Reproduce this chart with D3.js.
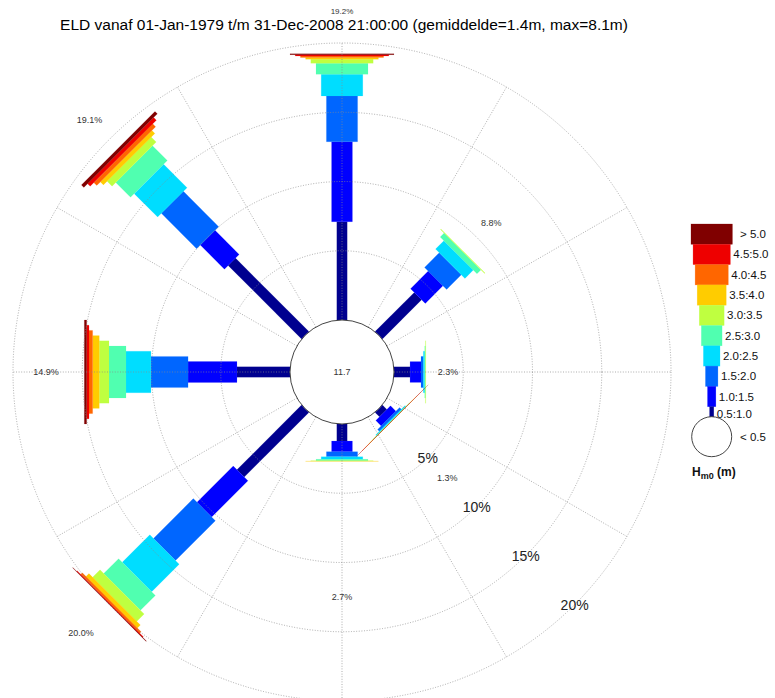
<!DOCTYPE html>
<html lang="en">
<head>
<meta charset="utf-8">
<title>Wave rose ELD</title>
<script src="https://d3js.org/d3.v7.min.js"></script>
<style>
  body { margin: 0; background: #fff; }
  text { font-family: "Liberation Sans", Arial, sans-serif; }
</style>
</head>
<body>
<script>
// wave direction sectors (degrees, clockwise from north)
const directions = [0, 45, 90, 135, 180, 225, 270, 315];
// Hm0 classes, low to high
const classLabels = ['0.5:1.0', '1.0:1.5', '1.5:2.0', '2.0:2.5', '2.5:3.0',
                     '3.0:3.5', '3.5:4.0', '4.0:4.5', '4.5:5.0', '> 5.0'];
const classColors = ['#00008f', '#0000ff', '#0066ff', '#00ddff', '#50ffb0',
                     '#bfff40', '#ffcc00', '#ff6600', '#ee0000', '#800000'];
// occurrence (%) per class for every direction
const freqN  = [7.10, 5.77, 3.30, 1.57, 0.79, 0.29, 0.13, 0.11, 0.10, 0.06];
const freqNE = [4.00, 1.80, 1.50, 0.85, 0.40, 0.05, 0, 0, 0, 0];
const freqE  = [1.16, 0.79, 0.17, 0.10, 0.05, 0.03, 0, 0, 0, 0];
const freqSE = [0.45, 0.55, 0.18, 0.08, 0.02, 0.01, 0.005, 0.003, 0.002, 0.002];
const freqS  = [1.23, 0.77, 0.36, 0.19, 0.10, 0.03, 0.01, 0, 0, 0];
const freqSW = [6.60, 3.70, 4.07, 2.81, 1.52, 0.76, 0.30, 0.15, 0.06, 0.03];
const freqW  = [3.83, 3.53, 2.68, 1.80, 1.23, 0.70, 0.48, 0.26, 0.17, 0.17];
const freqNW = [7.50, 2.46, 3.61, 2.39, 1.51, 0.51, 0.30, 0.30, 0.27, 0.25];
const totalLabels = ['19.2%', '8.8%', '2.3%', '1.3%', '2.7%', '20.0%', '14.9%', '19.1%'];
const calm = '11.7';
const ringTicks = [5, 10, 15, 20];
const title = 'ELD vanaf 01-Jan-1979 t/m 31-Dec-2008 21:00:00 (gemiddelde=1.4m, max=8.1m)';

const freqs = [freqN, freqNE, freqE, freqSE, freqS, freqSW, freqW, freqNW];

// layout
const width = 775, height = 698;
const cx = 342, cy = 372;
const labelRadius = [361, 211, 106, 149, 225, 369, 296, 357];

const rScale = d3.scaleLinear().domain([0, 20]).range([52, 329]);
const halfW = d3.scaleLinear().domain([0, 9]).range([5.2, 52]);

const svg = d3.select('body').append('svg')
  .attr('width', width).attr('height', height);

const rose = svg.append('g').attr('transform', `translate(${cx},${cy})`);

// bars: stacked class segments for each direction
directions.forEach((dir, i) => {
  let cum = 0;
  const segs = freqs[i].map((v, k) => {
    const s = { k: k, r0: rScale(cum), r1: rScale(cum + v) };
    cum += v;
    return s;
  });
  rose.append('g')
    .attr('transform', `rotate(${dir})`)
    .selectAll('path')
    .data(segs.filter(s => freqs[i][s.k] > 0))
    .join('path')
    .attr('d', s => {
      const w = halfW(s.k);
      return `M${-w},${-s.r0}L${-w},${-s.r1}L${w},${-s.r1}L${w},${-s.r0}Z`;
    })
    .attr('fill', s => classColors[s.k])
    .attr('stroke', s => classColors[s.k])
    .attr('stroke-width', 0.5)
    .attr('stroke-opacity', 0.25);
});

// polar grid on top
const grid = rose.append('g')
  .attr('stroke', '#8a8a8a')
  .attr('stroke-width', 0.7)
  .attr('stroke-dasharray', '1,1.6')
  .attr('fill', 'none');
grid.selectAll('circle')
  .data(ringTicks)
  .join('circle')
  .attr('r', d => rScale(d));
grid.selectAll('line')
  .data(d3.range(0, 360, 30))
  .join('line')
  .attr('x1', 0).attr('y1', 0)
  .attr('x2', a => rScale(20) * Math.sin(a * Math.PI / 180))
  .attr('y2', a => -rScale(20) * Math.cos(a * Math.PI / 180));

// calm circle
rose.append('circle')
  .attr('r', rScale(0))
  .attr('fill', '#fff')
  .attr('stroke', '#444')
  .attr('stroke-width', 1);
rose.append('text')
  .attr('text-anchor', 'middle')
  .attr('dy', '0.35em')
  .attr('font-size', 9)
  .attr('fill', '#333')
  .text(calm);

// ring labels along SE
rose.selectAll('text.ring')
  .data(ringTicks)
  .join('text')
  .attr('class', 'ring')
  .attr('x', d => rScale(d) * Math.SQRT1_2)
  .attr('y', d => rScale(d) * Math.SQRT1_2)
  .attr('dy', '0.35em')
  .attr('text-anchor', 'middle')
  .attr('font-size', 14)
  .attr('fill', '#222')
  .text(d => d + '%');

// total labels per direction
rose.selectAll('text.total')
  .data(directions)
  .join('text')
  .attr('class', 'total')
  .attr('x', (d, i) => labelRadius[i] * Math.sin(d * Math.PI / 180))
  .attr('y', (d, i) => -labelRadius[i] * Math.cos(d * Math.PI / 180))
  .attr('dy', '0.35em')
  .attr('text-anchor', 'middle')
  .attr('font-size', (d, i) => i === 0 ? 8 : 9)
  .attr('fill', '#333')
  .text((d, i) => totalLabels[i]);

// title
svg.append('text')
  .attr('x', 344).attr('y', 30)
  .attr('text-anchor', 'middle')
  .attr('font-size', 15.5)
  .attr('fill', '#000')
  .text(title);

// legend
const lx = 711.7, ltop = 224, step = 20.3;
const legHalf = d3.scaleLinear().domain([0, 9]).range([2.07, 20.7]);
const leg = svg.append('g');
const legRows = d3.range(9, -1, -1); // highest class on top
legRows.forEach((k, j) => {
  const y0 = ltop + j * step;
  const h = k === 0 ? 10.7 : step;
  leg.append('rect')
    .attr('x', lx - legHalf(k)).attr('y', y0)
    .attr('width', 2 * legHalf(k)).attr('height', h)
    .attr('fill', classColors[k])
    .attr('stroke', classColors[k]).attr('stroke-width', 0.5).attr('stroke-opacity', 0.5);
  leg.append('text')
    .attr('x', k === 9 ? 740 : lx + legHalf(k) + 3)
    .attr('y', y0 + (k === 0 ? 7.5 : h / 2))
    .attr('dy', '0.35em')
    .attr('font-size', 11.5)
    .attr('fill', '#111')
    .text(classLabels[k]);
});
leg.append('circle')
  .attr('cx', lx).attr('cy', 436.7).attr('r', 20)
  .attr('fill', '#fff').attr('stroke', '#444').attr('stroke-width', 1);
leg.append('text')
  .attr('x', 740).attr('y', 436.7).attr('dy', '0.35em')
  .attr('font-size', 11.5).attr('fill', '#111')
  .text('< 0.5');
const unit = leg.append('text')
  .attr('x', 692).attr('y', 476)
  .attr('font-size', 12).attr('font-weight', 'bold').attr('fill', '#111');
unit.append('tspan').text('H');
unit.append('tspan').attr('dy', 3).attr('font-size', 9).text('m0');
unit.append('tspan').attr('dy', -3).text(' (m)');
</script>
</body>
</html>
